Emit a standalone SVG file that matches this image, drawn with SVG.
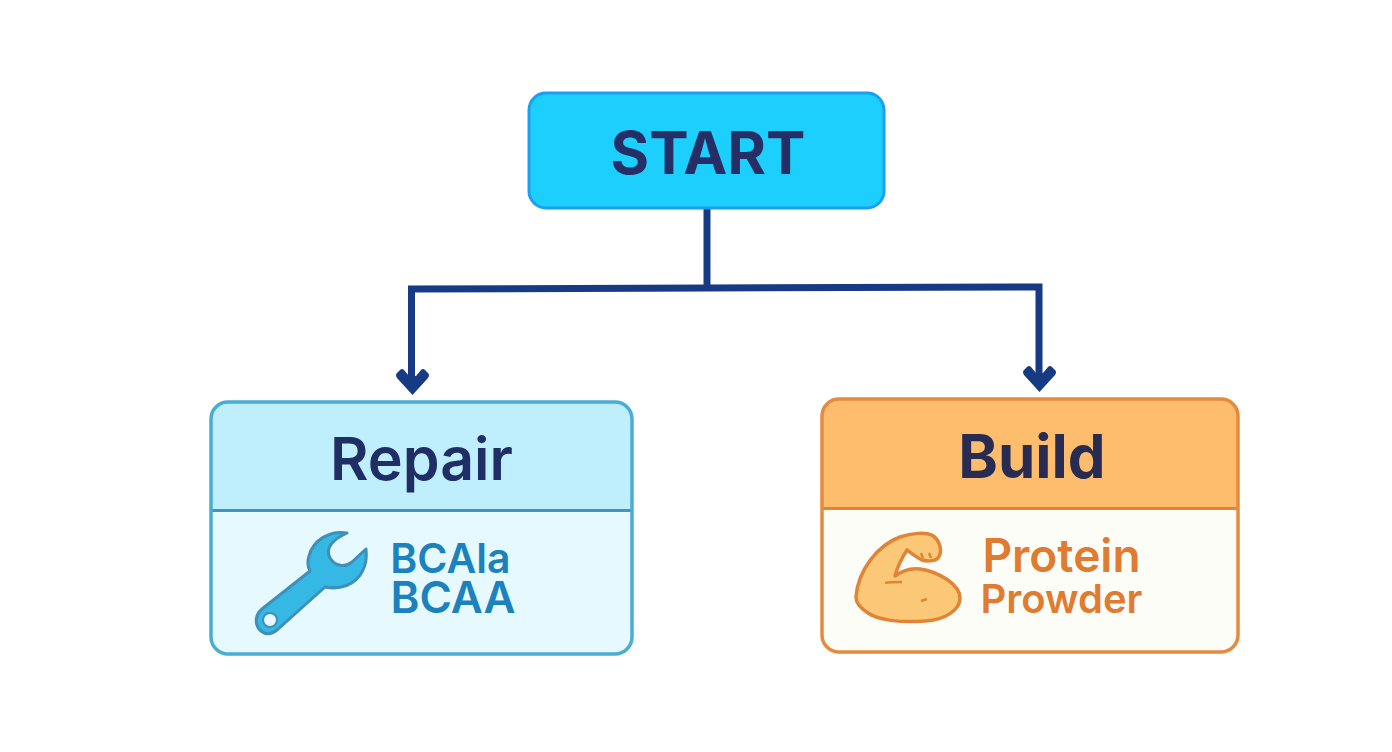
<svg xmlns="http://www.w3.org/2000/svg" width="1392" height="752" viewBox="0 0 1392 752">
<style>
text{font-family:Inter,"Noto Sans",sans-serif;text-anchor:middle}
.t{font-weight:700}
.h{font-weight:600}
.s{font-weight:600}
.c{fill:none;stroke:#173a85;stroke-width:7}
.a{fill:#173a85}
</style>
<defs>
<clipPath id="cr"><rect x="211" y="402" width="421" height="252" rx="17"/></clipPath>
<clipPath id="cb"><rect x="822" y="399" width="416" height="253" rx="17"/></clipPath>
<path id="head" d="M0 0L-15.500 -17Q-17.500 -20 -15.500 -22L-12.500 -25Q-10.500 -27 -8.500 -25L-3.500 -19H3.500L8.500 -25Q10.500 -27 12.500 -25L15.500 -22Q17.500 -20 15.500 -17Z"/>
</defs>
<rect width="1392" height="752" fill="#fff"/>
<g id="connectors">
<path class="c" d="M707 209V288"/>
<path class="c" d="M411.500 380V289L707 288L1039 287V376"/>
<use href="#head" class="a" x="412.500" y="395"/>
<use href="#head" class="a" x="1039.500" y="392"/>
</g>
<g id="start">
<rect x="529" y="93" width="355" height="115" rx="17" fill="#1ccffd" stroke="#1b9ff0" stroke-width="3"/>
<text class="t" x="708" y="174" font-size="59" fill="#252f66">START</text>
</g>
<g id="repair">
<rect x="211" y="402" width="421" height="252" rx="17" fill="#e6f9fe"/>
<rect x="211" y="402" width="421" height="108" fill="#bfeefc" clip-path="url(#cr)"/>
<path d="M211 510.500H632" stroke="#3f94c2" stroke-width="3"/>
<rect x="211" y="402" width="421" height="252" rx="17" fill="none" stroke="#4badd3" stroke-width="3.500"/>
<text class="h" x="421.500" y="480" font-size="59" fill="#1f2f66">Repair</text>
<path d="M347 533C330 530 313 540 309 556C307 562 308 567 310 571L262 609C254 616 255 626 261 631C266 635 272 634 277 630L325 587C340 590 355 585 362 572C366 565 367 557 366 549L352 562C345 568 335 566 330 558C325 548 332 540 347 533Z" fill="#35b8e3" stroke="#3f8fb8" stroke-width="3" stroke-linejoin="round"/>
<circle cx="270" cy="620" r="7" fill="#e6f9fe" stroke="#3f8fb8" stroke-width="2"/>
<text class="s" x="450.500" y="573" font-size="41" fill="#1b82bd">BCAla</text>
<text class="s" x="453" y="613" font-size="44" fill="#1b82bd">BCAA</text>
</g>
<g id="build">
<rect x="822" y="399" width="416" height="253" rx="17" fill="#fdfdf8"/>
<rect x="822" y="399" width="416" height="109" fill="#fdbd6c" clip-path="url(#cb)"/>
<path d="M822 508.500H1238" stroke="#e08436" stroke-width="3"/>
<rect x="822" y="399" width="416" height="253" rx="17" fill="none" stroke="#e58a3e" stroke-width="3.500"/>
<text class="t" x="1032" y="478" font-size="60" fill="#282c52">Build</text>
<path d="M856 597C858 570 878 545 900 537C912 533 925 532 932 535C940 540 943 552 938 558C934 562 925 561 922 560C916 557 911 553 907 550C903 556 898 565 895 576C903 570 912 568 920 569C940 572 960 585 960 598C960 610 945 620 925 621C900 623 878 620 868 613C860 608 856 603 856 597Z" fill="#fbc878" stroke="#e08436" stroke-width="3.500" stroke-linejoin="round"/>
<path d="M885 583C890 582 895 582 902 582M921 601L927 599M921 553L923 558M929 553L931 558" fill="none" stroke="#e08436" stroke-width="2.500"/>
<text class="s" x="1061.500" y="572" font-size="46" fill="#df7c31">Protein</text>
<text class="s" x="1061.500" y="613" font-size="40" fill="#df7c31">Prowder</text>
</g>
</svg>
